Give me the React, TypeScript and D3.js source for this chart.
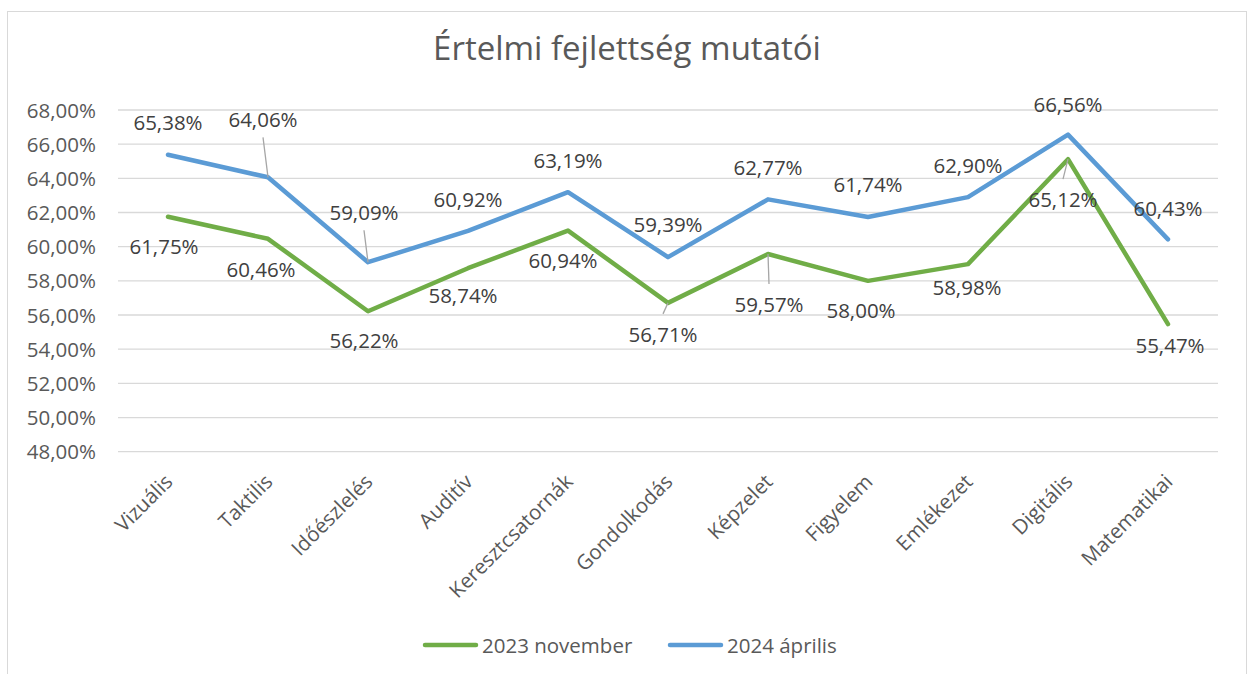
import React, { useRef, useEffect } from "react";
import * as d3 from "d3";

// categories and values (percent)
const categories = [
  "Vizuális",
  "Taktilis",
  "Időészlelés",
  "Auditív",
  "Keresztcsatornák",
  "Gondolkodás",
  "Képzelet",
  "Figyelem",
  "Emlékezet",
  "Digitális",
  "Matematikai",
];
const nov2023 = [61.75, 60.46, 56.22, 58.74, 60.94, 56.71, 59.57, 58.0, 58.98, 65.12, 55.47];
const apr2024 = [65.38, 64.06, 59.09, 60.92, 63.19, 59.39, 62.77, 61.74, 62.9, 66.56, 60.43];
const yTicks = [48, 50, 52, 54, 56, 58, 60, 62, 64, 66, 68];
const seriesNames = ["2023 november", "2024 április"];

// data label placement, offset from the point (dx, dy of baseline)
const novLabelOffsets = [[-4, 37], [-7, 38], [-4, 37], [-5, 35], [-5, 37], [-5, 39], [1, 58], [-7, 37], [-1, 31], [-5, 48], [2, 29]];
const aprLabelOffsets = [[0, -25], [-5, -50], [-4, -42], [0, -24], [0, -24], [0, -25], [0, -24], [0, -25], [0, -24], [0, -23], [0, -23]];
const novLeaders = [5, 6, 9];
const aprLeaders = [1, 2];

const GREEN = "#70ad47";
const BLUE = "#5b9bd5";
const FONT = "'Open Sans', sans-serif";

const fmt = (v) => v.toFixed(2).replace(".", ",") + "%";

const App = () => {
  const svgRef = useRef();

  useEffect(() => {
    const svg = d3.select(svgRef.current);
    svg.selectAll("*").remove();

    // chart border
    svg
      .append("rect")
      .attr("x", 7.5)
      .attr("y", 11.5)
      .attr("width", 1239)
      .attr("height", 700)
      .attr("fill", "white")
      .attr("stroke", "#d9d9d9");

    // title
    svg
      .append("text")
      .attr("x", 627)
      .attr("y", 60)
      .attr("text-anchor", "middle")
      .style("font-family", FONT)
      .style("font-size", "33px")
      .style("fill", "#595959")
      .text("Értelmi fejlettség mutatói");

    var x = d3.scalePoint().domain(categories).range([118, 1218]).padding(0.5);
    var y = d3.scaleLinear().domain([48, 68]).range([451.7, 110]);

    // grid + y labels
    yTicks.forEach((t) => {
      svg
        .append("line")
        .attr("x1", 118)
        .attr("x2", 1218)
        .attr("y1", y(t))
        .attr("y2", y(t))
        .attr("stroke", "#d9d9d9")
        .attr("stroke-width", 1.3);
      svg
        .append("text")
        .attr("x", 96)
        .attr("y", y(t) + 7.5)
        .attr("text-anchor", "end")
        .style("font-family", FONT)
        .style("font-size", "20.5px")
        .style("fill", "#595959")
        .text(fmt(t));
    });

    // category labels
    categories.forEach((c) => {
      svg
        .append("text")
        .attr("transform", `translate(${x(c) + 6},${483}) rotate(-45)`)
        .attr("text-anchor", "end")
        .style("font-family", FONT)
        .style("font-size", "20.5px")
        .style("fill", "#595959")
        .text(c);
    });

    const line = d3
      .line()
      .x((d, i) => x(categories[i]))
      .y((d) => y(d));

    const series = [
      { values: nov2023, color: GREEN, offsets: novLabelOffsets, leaders: novLeaders },
      { values: apr2024, color: BLUE, offsets: aprLabelOffsets, leaders: aprLeaders },
    ];

    series.forEach((s) => {
      svg
        .append("path")
        .datum(s.values)
        .attr("d", line)
        .attr("fill", "none")
        .attr("stroke", s.color)
        .attr("stroke-width", 4.5)
        .attr("stroke-linejoin", "round")
        .attr("stroke-linecap", "round");
    });

    // data labels + leader lines
    series.forEach((s) => {
      s.values.forEach((v, i) => {
        const px = x(categories[i]);
        const py = y(v);
        const lx = px + s.offsets[i][0];
        const ly = py + s.offsets[i][1];
        if (s.leaders.includes(i)) {
          const above = s.offsets[i][1] < 0;
          svg
            .append("line")
            .attr("x1", px)
            .attr("y1", py)
            .attr("x2", lx)
            .attr("y2", above ? ly + 10 : ly - 28)
            .attr("stroke", "#a6a6a6")
            .attr("stroke-width", 1.3);
        }
        svg
          .append("text")
          .attr("x", lx)
          .attr("y", ly)
          .attr("text-anchor", "middle")
          .style("font-family", FONT)
          .style("font-size", "20.5px")
          .style("fill", "#404040")
          .text(fmt(v));
      });
    });

    // legend
    const legend = [
      { name: seriesNames[0], color: GREEN, x: 423 },
      { name: seriesNames[1], color: BLUE, x: 668 },
    ];
    legend.forEach((l) => {
      svg
        .append("line")
        .attr("x1", l.x + 2)
        .attr("x2", l.x + 53)
        .attr("y1", 645)
        .attr("y2", 645)
        .attr("stroke", l.color)
        .attr("stroke-width", 4.5)
        .attr("stroke-linecap", "round");
      svg
        .append("text")
        .attr("x", l.x + 59)
        .attr("y", 652.5)
        .style("font-family", FONT)
        .style("font-size", "20.5px")
        .style("fill", "#595959")
        .text(l.name);
    });
  }, []);

  return (
    <div style={{ position: "absolute", left: 0, top: 0 }}>
      <svg ref={svgRef} width={1248} height={674} style={{ display: "block" }}></svg>
    </div>
  );
};

export default App;
